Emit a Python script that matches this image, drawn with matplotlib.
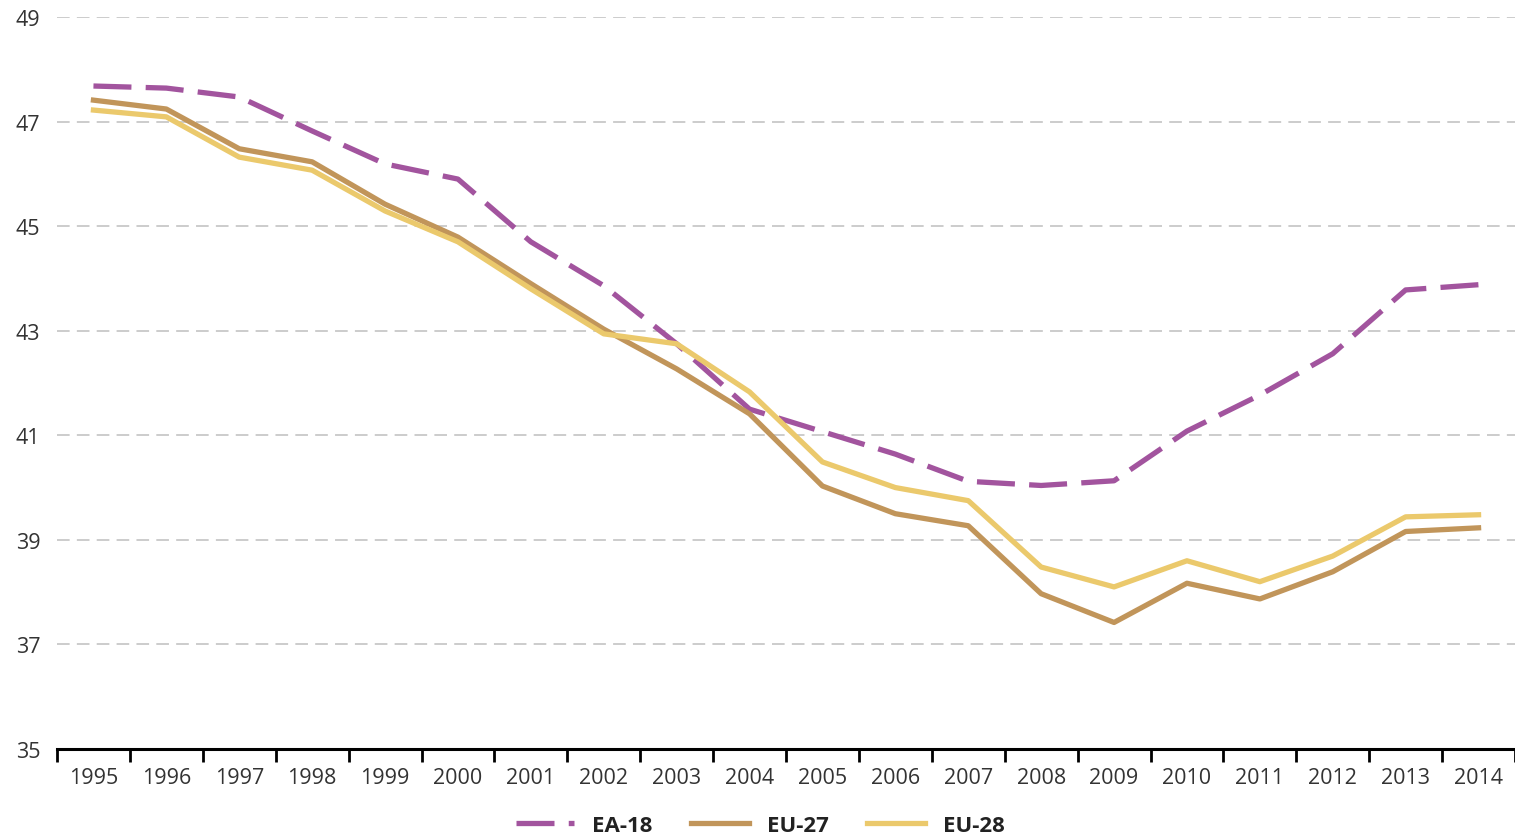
import matplotlib.pyplot as plt
import numpy as np

years = [str(y) for y in range(1995, 2015)]
ea18 = [47.68, 47.64, 47.47, 46.82, 46.19, 45.90, 44.70, 43.86, 42.75, 41.50,
        41.07, 40.64, 40.12, 40.04, 40.13, 41.08, 41.77, 42.56, 43.78, 43.88]
eu27 = [47.41, 47.24, 46.48, 46.23, 45.42, 44.79, 43.90, 43.03, 42.27, 41.41,
        40.03, 39.50, 39.27, 37.97, 37.42, 38.17, 37.87, 38.39, 39.16, 39.23]
eu28 = [47.22, 47.09, 46.32, 46.07, 45.29, 44.70, 43.80, 42.94, 42.75, 41.83,
        40.49, 40.00, 39.75, 38.48, 38.10, 38.60, 38.20, 38.69, 39.44, 39.48]
yticks = [35, 37, 39, 41, 43, 45, 47, 49]

plt.rcParams['font.family'] = ['Open Sans', 'DejaVu Sans']

fig = plt.figure(figsize=(15.15, 8.37), dpi=100)
ax = fig.add_axes([57 / 1515, 1 - 750 / 837, 1 - 57 / 1515, (750 - 18) / 837])

x = np.arange(len(years))
ax.plot(x, ea18, color='#a2549e', lw=3.8, dashes=(7.2, 2.7), label='EA-18')
ax.plot(x, eu27, color='#c1955a', lw=3.8, label='EU-27')
ax.plot(x, eu28, color='#ebc96c', lw=3.8, label='EU-28')

ax.set_xlim(-0.5, len(years) - 0.5)
ax.set_ylim(35, 49)
ax.set_yticks(yticks)
ax.set_xticks(x)
ax.set_xticklabels(years)
ax.set_xticks(np.arange(-0.5, len(years), 1), minor=True)
ax.tick_params(axis='x', which='major', length=0, labelsize=15.5, colors='#333333', pad=13)
ax.tick_params(axis='x', which='minor', length=9, width=2, color='black', direction='out')
ax.tick_params(axis='y', length=0, labelsize=15.5, colors='#333333', pad=12)

for y in yticks[1:]:
    ax.axhline(y, color='#c8c8c8', lw=1.3, dashes=(7, 4), zorder=0)

for s in ['top', 'right', 'left']:
    ax.spines[s].set_visible(False)
ax.spines['bottom'].set_linewidth(2.2)
ax.spines['bottom'].set_color('black')

leg = fig.legend(loc='lower center', bbox_to_anchor=(0.502, -0.024), ncol=3, frameon=False,
                 prop={'size': 16, 'weight': 'bold'}, handlelength=2.6, columnspacing=1.75)
for t in leg.get_texts():
    t.set_color('#222222')

fig.savefig('out.png', dpi=100)
